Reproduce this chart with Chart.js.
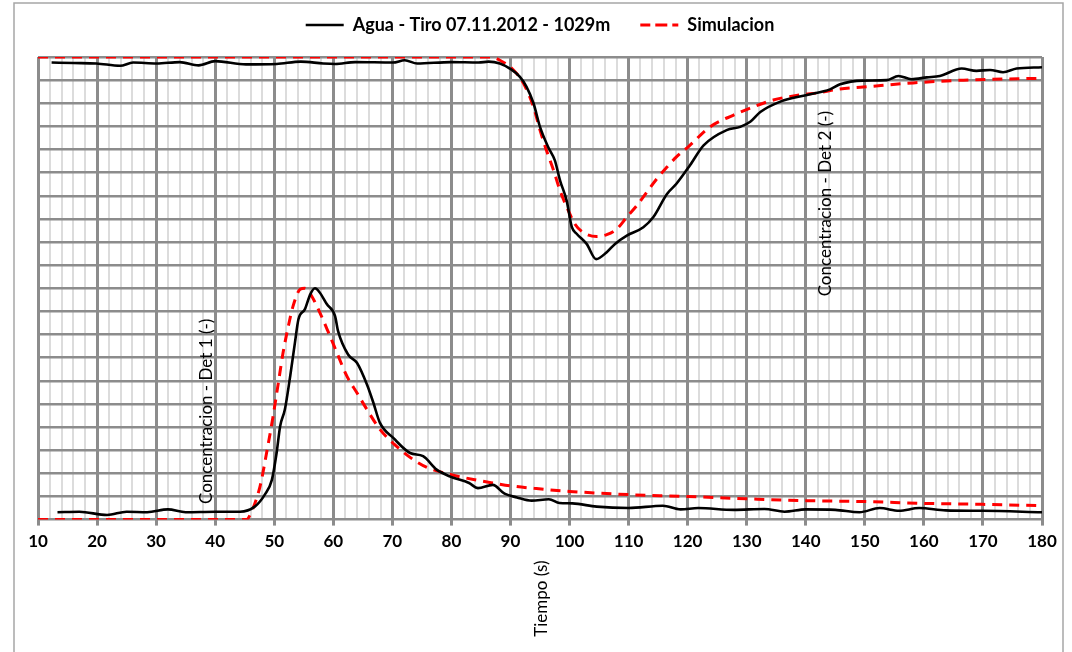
<!DOCTYPE html>
<html>
<head>
<meta charset="utf-8">
<script src="https://cdn.jsdelivr.net/npm/chart.js@4.4.1/dist/chart.umd.min.js"></script>
<style>
  html, body { margin: 0; padding: 0; background: #fff; }
  #wrap { width: 1072px; height: 652px; }
</style>
</head>
<body>
<div id="wrap"><canvas id="chart" width="1072" height="652"></canvas></div>
<script>
// --- Data ---
const xTicks = [10, 20, 30, 40, 50, 60, 70, 80, 90, 100, 110, 120, 130, 140, 150, 160, 170, 180];
const seriesNames = ['Agua - Tiro 07.11.2012 - 1029m', 'Simulacion'];

// Agua, detector 1 (black)
const aguaDet1T = [13.3, 17, 21.7, 25, 28.5, 32, 35, 40, 44.2, 46.7, 48.4, 49.6, 50.4, 51.0, 51.8, 52.7, 53.5, 54.1, 55.2, 56.1, 56.9, 57.7, 58.9, 60.3, 60.8, 62.5, 64.0, 65.7, 66.8, 67.9, 70.2, 73.0, 75.2, 77.5, 79.8, 83.0, 84.5, 87.0, 89.0, 91.1, 93.6, 96.5, 98.3, 100.5, 104.6, 110.0, 115.8, 118.8, 121.8, 127.8, 133.0, 136.4, 140.0, 145.0, 149.1, 152.5, 155.8, 159.2, 163.7, 170, 180];
const aguaDet1C = [0.016, 0.017, 0.010, 0.017, 0.016, 0.022, 0.016, 0.017, 0.017, 0.028, 0.054, 0.086, 0.144, 0.202, 0.238, 0.310, 0.382, 0.433, 0.455, 0.487, 0.500, 0.491, 0.466, 0.440, 0.408, 0.357, 0.339, 0.292, 0.252, 0.209, 0.176, 0.144, 0.137, 0.108, 0.093, 0.079, 0.068, 0.075, 0.056, 0.048, 0.041, 0.044, 0.036, 0.035, 0.028, 0.025, 0.030, 0.022, 0.025, 0.021, 0.023, 0.017, 0.022, 0.021, 0.016, 0.025, 0.019, 0.025, 0.020, 0.019, 0.016];

// Agua, detector 2 (black)
const aguaDet2T = [12.3, 16, 19.9, 23.9, 26.1, 30.1, 34.0, 37.2, 40.0, 45.2, 50.4, 54.5, 58.3, 60.3, 63.7, 70.1, 72.1, 74.2, 79.9, 84.6, 86.3, 88.2, 89.9, 91.6, 92.7, 93.9, 95.0, 96.4, 97.5, 98.4, 99.5, 100.4, 101.2, 102.9, 104.5, 106.3, 107.7, 109.7, 112.5, 114.2, 116.5, 118.1, 120.4, 122.7, 126.6, 128.9, 130.6, 132.3, 135.6, 140.2, 144.1, 145.8, 149.7, 153.7, 155.7, 157.9, 160.5, 162.7, 166.4, 168.9, 171.2, 173.4, 175.7, 180];
const aguaDet2C = [0.988, 0.987, 0.986, 0.981, 0.988, 0.986, 0.989, 0.982, 0.991, 0.984, 0.985, 0.990, 0.986, 0.985, 0.989, 0.988, 0.993, 0.986, 0.989, 0.988, 0.990, 0.986, 0.975, 0.957, 0.936, 0.900, 0.849, 0.805, 0.777, 0.733, 0.690, 0.632, 0.618, 0.596, 0.563, 0.578, 0.596, 0.614, 0.632, 0.654, 0.704, 0.726, 0.766, 0.809, 0.842, 0.849, 0.860, 0.881, 0.903, 0.918, 0.930, 0.941, 0.949, 0.950, 0.959, 0.952, 0.956, 0.959, 0.975, 0.970, 0.972, 0.967, 0.975, 0.978];

// Simulacion, detector 1 (red dashed)
const simDet1T = [10, 45.3, 45.9, 47.6, 48.7, 49.8, 50.7, 51.5, 52.4, 53.2, 54.4, 55.2, 56.3, 57.7, 59.2, 60.6, 62.3, 64.0, 65.7, 67.9, 70.3, 73.5, 76.0, 80.0, 84.0, 87.1, 90, 94.4, 100, 110, 120, 130, 140, 150, 160, 170, 180];
const simDet1C = [0, 0, 0.010, 0.072, 0.144, 0.223, 0.296, 0.361, 0.419, 0.462, 0.498, 0.500, 0.484, 0.448, 0.404, 0.361, 0.310, 0.274, 0.238, 0.195, 0.163, 0.130, 0.112, 0.097, 0.086, 0.079, 0.073, 0.067, 0.061, 0.054, 0.050, 0.045, 0.041, 0.039, 0.035, 0.033, 0.030];

// Simulacion, detector 2 (red dashed)
const simDet2T = [10, 86.5, 88.2, 90.5, 92.2, 93.9, 95.0, 96.1, 97.3, 98.4, 99.8, 100.9, 102.3, 104.6, 106.3, 108.0, 109.7, 111.4, 113.1, 114.8, 116.5, 118.1, 120.2, 123.8, 127.7, 131.1, 134.5, 139.0, 142.4, 145.8, 149.7, 158.2, 166.7, 180];
const simDet2C = [1.0, 1.0, 0.993, 0.972, 0.943, 0.892, 0.842, 0.798, 0.755, 0.711, 0.668, 0.639, 0.621, 0.612, 0.616, 0.628, 0.654, 0.679, 0.708, 0.737, 0.762, 0.784, 0.807, 0.849, 0.874, 0.892, 0.907, 0.918, 0.923, 0.931, 0.935, 0.944, 0.950, 0.954];

// --- Helpers ---
function toPoints(ts, cs) {
    return ts.map((t, i) => ({ x: t, y: cs[i] }));
}

const FONT = 'Lato';
const BLACK = '#000000';
const RED = '#ff0000';
const MAJOR_GRID = '#8c8c8c';
const MINOR_GRID = '#dcdcdc';

const blackLine = { borderColor: BLACK, backgroundColor: BLACK, borderWidth: 2.6, pointRadius: 0, cubicInterpolationMode: 'monotone', fill: false };
const redLine = { borderColor: RED, backgroundColor: RED, borderWidth: 3, borderDash: [10, 7], pointRadius: 0, cubicInterpolationMode: 'monotone', fill: false };

// extra gap between legend and plot
const legendGap = {
    id: 'legendGap',
    afterInit(chart) {
        const legend = chart.legend;
        if (!legend) return;
        const origFit = legend.fit;
        legend.fit = function () {
            origFit.call(this);
            this.height += 13;
        };
    }
};

// frame around the whole picture + rotated labels
const decorations = {
    id: 'decorations',
    beforeDraw(chart) {
        const ctx = chart.ctx;
        ctx.save();
        ctx.fillStyle = '#fff';
        ctx.fillRect(0, 0, chart.width, chart.height);
        ctx.strokeStyle = '#a6a6a6';
        ctx.lineWidth = 1.5;
        ctx.strokeRect(14, 3, 1049, 700);
        ctx.restore();
    },
    afterDraw(chart) {
        const ctx = chart.ctx;
        const xs = chart.scales.x;
        const ys = chart.scales.y;
        const labels = [
            { text: 'Concentracion - Det 1 (-)', x: xs.getPixelForValue(38.6), y: ys.getPixelForValue(0.234) },
            { text: 'Concentracion - Det 2 (-)', x: xs.getPixelForValue(143.4), y: ys.getPixelForValue(0.683) },
            { text: 'Tiempo (s)', x: xs.getPixelForValue(95.2), y: ys.bottom + 79 }
        ];
        ctx.save();
        ctx.fillStyle = '#000';
        ctx.font = '17px ' + FONT;
        ctx.textAlign = 'center';
        ctx.textBaseline = 'middle';
        labels.forEach(l => {
            ctx.save();
            ctx.translate(l.x, l.y);
            ctx.rotate(-Math.PI / 2);
            ctx.fillText(l.text, 0, 0);
            ctx.restore();
        });
        ctx.restore();
    }
};

const ctx = document.getElementById('chart').getContext('2d');
const chart = new Chart(ctx, {
    type: 'line',
    data: {
        datasets: [
            { label: seriesNames[0], data: toPoints(aguaDet1T, aguaDet1C), ...blackLine },
            { label: seriesNames[1], data: toPoints(simDet1T, simDet1C), ...redLine },
            { label: seriesNames[0] + ' det2', data: toPoints(aguaDet2T, aguaDet2C), ...blackLine },
            { label: seriesNames[1] + ' det2', data: toPoints(simDet2T, simDet2C), ...redLine }
        ]
    },
    options: {
        responsive: false,
        animation: false,
        layout: { padding: { left: 38, right: 30, top: -14, bottom: 94 } },
        plugins: {
            legend: {
                position: 'top',
                labels: {
                    filter: item => item.datasetIndex < 2,
                    boxWidth: 38,
                    boxHeight: 0,
                    padding: 30,
                    color: '#000',
                    font: { family: FONT, size: 18, weight: 'bold' }
                }
            },
            tooltip: { enabled: false }
        },
        scales: {
            x: {
                type: 'linear',
                min: xTicks[0],
                max: xTicks[xTicks.length - 1],
                ticks: {
                    stepSize: 2,
                    autoSkip: false,
                    maxRotation: 0,
                    padding: 6,
                    color: '#000',
                    font: { family: FONT, size: 17, weight: 'bold' },
                    callback: v => xTicks.includes(v) ? String(v) : ''
                },
                grid: {
                    color: c => (c.tick && c.tick.value % 10 === 0) ? MAJOR_GRID : MINOR_GRID,
                    lineWidth: c => (c.tick && c.tick.value % 10 === 0) ? 3 : 2,
                    tickColor: c => (c.tick && c.tick.value % 10 === 0) ? MAJOR_GRID : 'rgba(0,0,0,0)',
                    tickLength: 6,
                    drawTicks: true
                },
                border: { display: false }
            },
            y: {
                min: 0,
                max: 1,
                ticks: { stepSize: 0.05, display: false },
                grid: { color: MAJOR_GRID, lineWidth: 2.5, drawTicks: false },
                border: { display: false }
            }
        }
    },
    plugins: [legendGap, decorations]
});
</script>
</body>
</html>
